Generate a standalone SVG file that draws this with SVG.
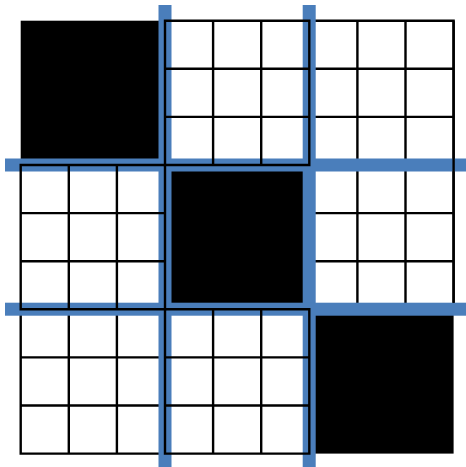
<svg xmlns="http://www.w3.org/2000/svg" width="466" height="467" viewBox="0 0 466 467">
<style>
.grid{fill:none;stroke:#000;stroke-width:2.4;stroke-linecap:square}
.edge{fill:none;stroke:#000;stroke-width:2.4}
.fill{fill:#000}
.blue{fill:#4A7EBB}
</style>
<rect width="466" height="467" fill="#fff"/>
<g id="blocks-under">
  <g id="block-top-left"><rect class="fill" x="20.7" y="20.7" width="144.3" height="144.3"/></g>
  <g id="block-center"><rect class="fill" x="165" y="165" width="144.3" height="144.3"/></g>
  <g id="block-bottom-right"><rect class="fill" x="309.3" y="309.3" width="144.3" height="144.3"/></g>
  <g id="block-top-right"><path class="grid" d="M309.3 20.7H453.6V165H309.3Z M309.3 68.8H453.6 M309.3 116.9H453.6 M357.4 20.7V165 M405.5 20.7V165"/></g>
  <g id="block-middle-right"><path class="grid" d="M309.3 165H453.6V309.3H309.3Z M309.3 213.1H453.6 M309.3 261.2H453.6 M357.4 165V309.3 M405.5 165V309.3"/></g>
  <g id="block-bottom-left"><path class="grid" d="M20.7 309.3H165V453.6H20.7Z M20.7 357.4H165 M20.7 405.5H165 M68.8 309.3V453.6 M116.9 309.3V453.6"/></g>
</g>
<g id="connectors">
  <rect class="blue" x="158.5" y="5" width="13" height="462"/>
  <rect class="blue" x="302.7" y="5" width="13" height="462"/>
  <rect class="blue" x="5" y="158.5" width="461" height="13"/>
  <rect class="blue" x="5" y="302.7" width="461" height="13"/>
</g>
<g id="blocks-over">
  <g id="block-top-middle"><path class="grid" d="M165 20.7H309.3V165H165Z M165 68.8H309.3 M165 116.9H309.3 M213.1 20.7V165 M261.2 20.7V165"/></g>
  <g id="block-middle-left"><path class="grid" d="M20.7 165H165V309.3H20.7Z M20.7 213.1H165 M20.7 261.2H165 M68.8 165V309.3 M116.9 165V309.3"/></g>
  <g id="block-bottom-middle"><path class="grid" d="M165 309.3H309.3V453.6H165Z M165 357.4H309.3 M165 405.5H309.3 M213.1 309.3V453.6 M261.2 309.3V453.6"/></g>
  <path id="right-edge" class="edge" d="M453.6 20.7V302.7"/>
</g>
</svg>
